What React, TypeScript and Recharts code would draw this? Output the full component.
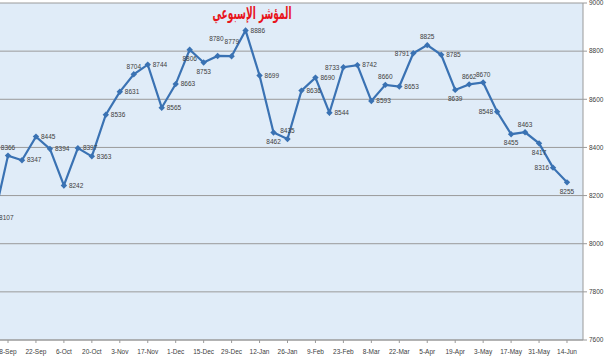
import { LineChart, Line, XAxis, YAxis, CartesianGrid, LabelList } from 'recharts';

// weekly index closes, first one (1-Sep) sits just left of the plot
const indexValues = [
    8107, 8366, 8347, 8445, 8394, 8242, 8397, 8363, 8536, 8631, 8704,
    8744, 8565, 8663, 8806, 8753, 8780, 8779, 8886, 8699, 8462, 8435,
    8636, 8690, 8544, 8733, 8742, 8593, 8660, 8653, 8791, 8825, 8785,
    8639, 8662, 8670, 8548, 8455, 8463, 8417, 8316, 8255,
];

const dateTicks = [
    '8-Sep', '22-Sep', '6-Oct', '20-Oct', '3-Nov', '17-Nov', '1-Dec',
    '15-Dec', '29-Dec', '12-Jan', '26-Jan', '9-Feb', '23-Feb', '8-Mar',
    '22-Mar', '5-Apr', '19-Apr', '3-May', '17-May', '31-May', '14-Jun',
];

const yTicks = [7600, 7800, 8000, 8200, 8400, 8600, 8800, 9000];

const title = 'المؤشر الإسبوعي';

// where each data label sits relative to its point
// r/l = right/left, a/b = above/below, A/B = higher above, shifted left/right
const labelSide = 'rarrrrrrrrarrrbbABrrbarrrlrrarlarbaalbablb'.split('');

const data = indexValues.map((value, i) => ({ week: i - 1, value }));

const LINE = '#3a72b3';
const TEXT = '#404040';
const FONT = 'Liberation Sans, Arial, sans-serif';

function Diamond(props: any) {
    const { cx, cy } = props;
    if (cx == null || cy == null) return null;
    const s = 3.2;
    return (
        <polygon
            points={`${cx},${cy - s} ${cx + s},${cy} ${cx},${cy + s} ${cx - s},${cy}`}
            fill={LINE}
        />
    );
}

function PointLabel(props: any) {
    const { x, y, value, index } = props;
    const side = labelSide[index] || 'r';
    let tx = x;
    let ty = y;
    let anchor: 'start' | 'middle' | 'end' = 'middle';
    if (side === 'r') { tx = x + 5; anchor = 'start'; }
    if (side === 'l') { tx = x - 4; anchor = 'end'; }
    if (side === 'a') { ty = y - 8; }
    if (side === 'A') { tx = x + 6; ty = y - 17; anchor = 'end'; }
    if (side === 'B') { tx = x - 7; ty = y - 14; anchor = 'start'; }
    if (side === 'b') { ty = y + 9; }
    return (
        <text
            x={tx}
            y={ty}
            dy="0.35em"
            textAnchor={anchor}
            fontSize={6.5}
            fontFamily={FONT}
            fill={TEXT}
        >
            {value}
        </text>
    );
}

export default function App() {
    return (
        <div style={{ position: 'absolute', left: 0, top: 0, width: 604, height: 361, background: '#fff' }}>
            <LineChart
                width={604}
                height={361}
                data={data}
                margin={{ top: 3, right: 0, bottom: 0, left: 0 }}
            >
                <CartesianGrid
                    vertical={false}
                    stroke="#9a9a9a"
                    strokeWidth={1}
                    fill="#e0ecf8"
                    fillOpacity={1}
                />
                <XAxis
                    dataKey="week"
                    type="number"
                    domain={[-0.5725, 41.145]}
                    allowDataOverflow
                    ticks={dateTicks.map((_, k) => k * 2)}
                    tickFormatter={(w: number) => dateTicks[Math.round(w / 2)] ?? ''}
                    height={21}
                    interval={0}
                    axisLine={{ stroke: '#9a9a9a' }}
                    tickLine={{ stroke: '#9a9a9a' }}
                    tickSize={3}
                    tickMargin={6}
                    tick={{ fontSize: 6.5, fill: TEXT, fontFamily: FONT }}
                />
                <YAxis
                    orientation="right"
                    type="number"
                    domain={[7600, 9000]}
                    ticks={yTicks}
                    width={21}
                    interval={0}
                    axisLine={{ stroke: '#9a9a9a' }}
                    tickLine={{ stroke: '#9a9a9a' }}
                    tickSize={4}
                    tickMargin={2}
                    tick={{ fontSize: 6.5, fill: TEXT, fontFamily: FONT }}
                />
                <Line
                    type="linear"
                    dataKey="value"
                    stroke={LINE}
                    strokeWidth={2.2}
                    dot={<Diamond />}
                    activeDot={false}
                    isAnimationActive={false}
                >
                    <LabelList dataKey="value" content={<PointLabel />} />
                </Line>
            </LineChart>
            <div
                dir="rtl"
                style={{
                    position: 'absolute',
                    left: 152,
                    width: 200,
                    top: 2,
                    textAlign: 'center',
                    whiteSpace: 'nowrap',
                    color: '#e8141c',
                    fontWeight: 'bold',
                    fontSize: 17,
                    fontFamily: 'DejaVu Sans, sans-serif',
                    lineHeight: '22px',
                    transform: 'scaleX(0.53)',
                    transformOrigin: 'center',
                }}
            >
                {title}
            </div>
        </div>
    );
}
